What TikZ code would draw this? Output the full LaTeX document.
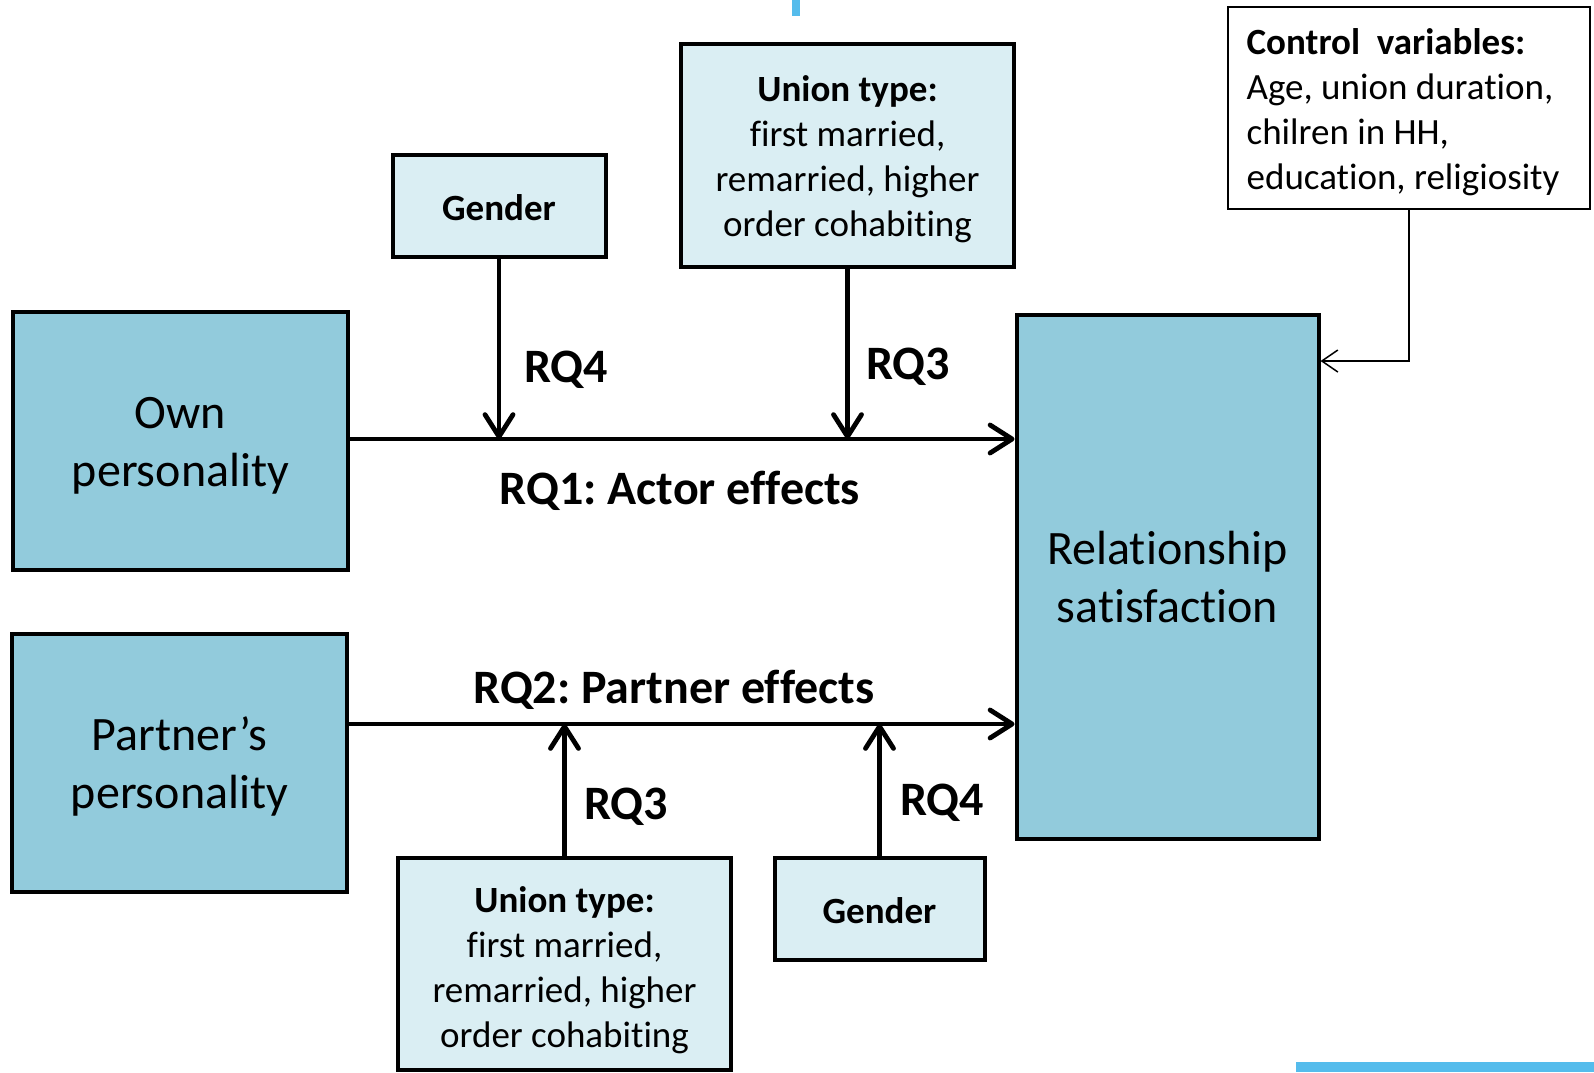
\documentclass[tikz,border=0pt]{standalone}
\usepackage{fontspec}
\setmainfont{Carlito}[Ligatures=NoCommon]
\frenchspacing
\usetikzlibrary{arrows.meta}
\definecolor{mainfill}{HTML}{92CBDC}
\definecolor{lightfill}{HTML}{DAEEF3}
\definecolor{markblue}{HTML}{55BCEC}
\begin{document}
\begin{tikzpicture}[x=0.5pt,y=-0.5pt,
  bigbox/.style={draw=black,line width=2pt,fill=mainfill,inner sep=0pt},
  smallbox/.style={draw=black,line width=2pt,fill=lightfill,inner sep=0pt},
  bigtext/.style={align=center,font=\fontsize{24}{29}\selectfont,inner sep=0pt},
  smalltext/.style={align=center,font=\fontsize{18.5}{22.5}\selectfont,inner sep=0pt},
  rqlabel/.style={font=\fontsize{24}{29}\selectfont\bfseries,inner sep=0pt},
  thickarrow/.style={line width=2.4pt,-{Straight Barb[length=11pt,width=14pt,round]}},
  thinarrow/.style={line width=0.75pt,-{Straight Barb[length=8pt,width=11pt]}}
]
\useasboundingbox (0,0) rectangle (1594,1072);
% decorative blue marks
\fill[markblue] (792,0) rectangle (800,16);
\fill[markblue] (1296,1062) rectangle (1594,1072);

% main boxes
\node[bigbox,minimum width=167.5pt,minimum height=129pt] (own) at (180.5,441) {};
\node[bigtext] (ownT) at ([yshift=-2.5pt]own.center) {Own\\personality};
\node[bigbox,minimum width=167.5pt,minimum height=129pt] (partner) at (179.5,763) {};
\node[bigtext] (partnerT) at ([yshift=-1.5pt]partner.center) {Partner’s\\personality};
\node[bigbox,minimum width=151pt,minimum height=262pt] (rs) at (1167.5,576.5) {};
\node[bigtext] (rsT) at (rs.center) {Relationship\\satisfaction};

% moderator boxes
\node[smallbox,minimum width=106.5pt,minimum height=51pt] (gt) at (499,206) {};
\node[smalltext] (gtT) at ([yshift=-1pt]gt.center) {\textbf{Gender}};
\node[smallbox,minimum width=166.5pt,minimum height=111.5pt] (ut) at (847.5,155) {};
\node[smalltext] (utT) at ([yshift=-2pt]ut.center)
  {\textbf{Union type:}\\first married,\\remarried, higher\\order cohabiting};
\node[smallbox,minimum width=166.5pt,minimum height=106pt] (ub) at (564.5,964) {};
\node[smalltext] (ubT) at ([yshift=-3pt]ub.center)
  {\textbf{Union type:}\\first married,\\remarried, higher\\order cohabiting};
\node[smallbox,minimum width=105pt,minimum height=51pt] (gb) at (879.5,909) {};
\node[smalltext] (gbT) at ([yshift=-1pt]gb.center) {\textbf{Gender}};

% control variables
\node[draw=black,line width=0.75pt,fill=white,minimum width=181pt,
  minimum height=101pt,inner sep=0pt] (ctrl) at (1409,108) {};
\node[align=left,anchor=west,inner sep=0pt,
  font=\fontsize{18.5}{22.5}\selectfont] (ctrlT) at ([xshift=9.5pt,yshift=-2pt]ctrl.west)
  {\textbf{Control\ \ variables:}\\Age, union duration,\\chilren in HH,\\education, religiosity};

% helper coordinates
\coordinate (a1) at (0,439);
\coordinate (a2) at (0,724);
\coordinate (cy) at (0,361);

% main effect arrows
\draw[thickarrow] (own.east |- a1) -- (rs.west |- a1);
\draw[thickarrow] (partner.east |- a2) -- (rs.west |- a2);

% moderator arrows
\draw[thickarrow] (gt.south) -- (gt.south |- a1);
\draw[thickarrow] (ut.south) -- (ut.south |- a1);
\draw[thickarrow] (ub.north) -- (ub.north |- a2);
\draw[thickarrow] (gb.north) -- (gb.north |- a2);

% control arrow
\draw[thinarrow] (ctrl.south) |- (rs.east |- cy);

% labels
\node[rqlabel] (l4t) at (566,370) {RQ4};
\node[rqlabel] (l3t) at (908,367) {RQ3};
\node[rqlabel] (l1) at (680,491) {RQ1: Actor effects};
\node[rqlabel] (l2) at (674,690) {RQ2: Partner effects};
\node[rqlabel] (l3b) at (626,807) {RQ3};
\node[rqlabel] (l4b) at (942,803) {RQ4};
\end{tikzpicture}
\end{document}
